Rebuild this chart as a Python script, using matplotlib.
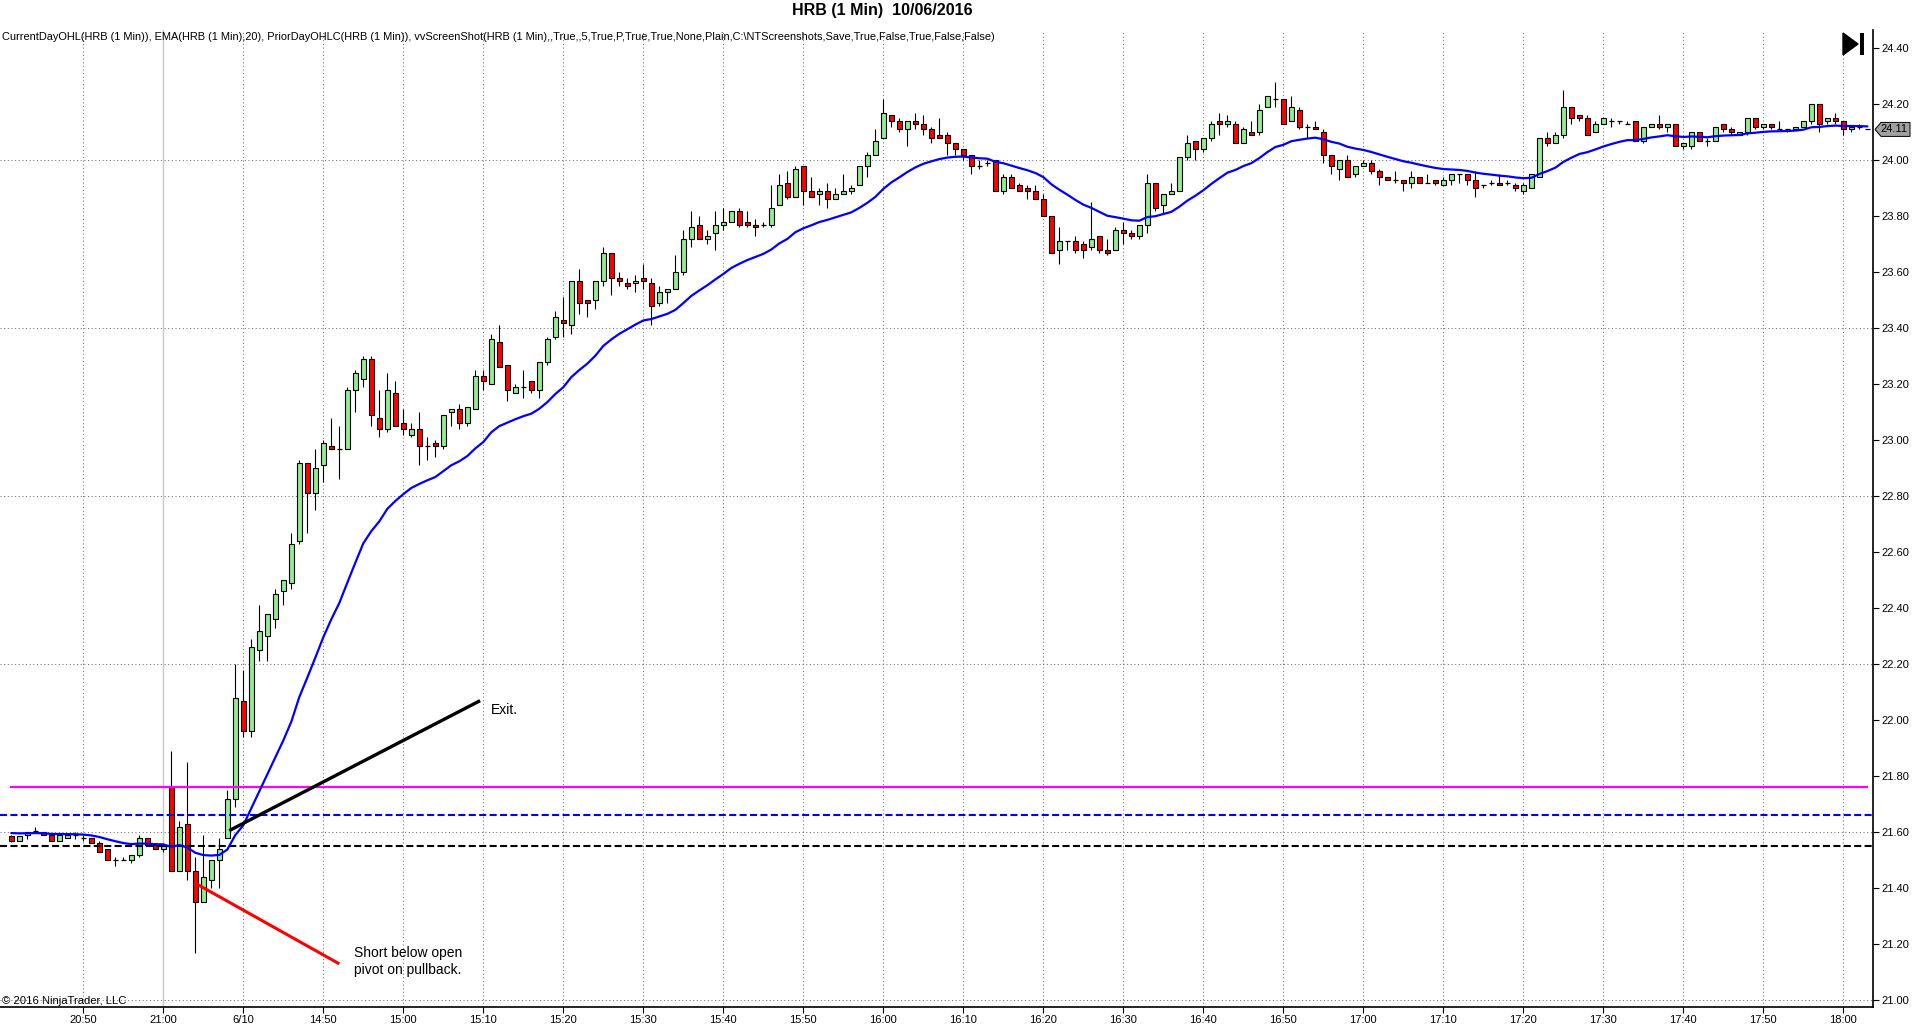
import numpy as np
import pandas as pd
import matplotlib
matplotlib.use("Agg")
import matplotlib.pyplot as plt
from matplotlib.patches import Polygon, Rectangle

plt.rcParams['font.family'] = ['Liberation Sans', 'DejaVu Sans']

# ---------------- data (1-minute OHLC bars, HRB 10/06/2016) ----------------
opens = [
    21.585, 21.57, 21.59, 21.605, 21.60, 21.59, 21.57, 21.58, 21.59, 21.58,
    21.58, 21.56, 21.54, 21.50, 21.50, 21.50, 21.52, 21.58, 21.555, 21.54,
    21.76, 21.46, 21.63, 21.46, 21.35, 21.43, 21.50, 21.58, 21.72, 22.07,
    21.96, 22.25, 22.30, 22.36, 22.46, 22.49, 22.64, 22.92, 22.81, 22.91,
    22.98, 22.97, 22.97, 23.18, 23.22, 23.29, 23.08, 23.04, 23.17, 23.06,
    23.02, 23.04, 22.98, 22.99, 22.98, 23.10, 23.11, 23.06, 23.11, 23.23,
    23.20, 23.35, 23.27, 23.17, 23.19, 23.21, 23.18, 23.28, 23.37, 23.43,
    23.41, 23.57, 23.50, 23.50, 23.57, 23.67, 23.58, 23.56, 23.56, 23.58,
    23.56, 23.49, 23.53, 23.54, 23.60, 23.72, 23.77, 23.72, 23.74, 23.77,
    23.78, 23.82, 23.78, 23.77, 23.77, 23.77, 23.84, 23.92, 23.87, 23.98,
    23.89, 23.88, 23.89, 23.86, 23.88, 23.89, 23.91, 23.98, 24.02, 24.08,
    24.16, 24.14, 24.11, 24.14, 24.13, 24.11, 24.09, 24.09, 24.06, 24.04,
    24.02, 23.98, 23.99, 24.00, 23.89, 23.94, 23.91, 23.90, 23.89, 23.86,
    23.80, 23.68, 23.71, 23.71, 23.70, 23.69, 23.73, 23.68, 23.68, 23.75,
    23.74, 23.73, 23.77, 23.92, 23.84, 23.88, 23.89, 24.01, 24.07, 24.04,
    24.08, 24.14, 24.13, 24.13, 24.06, 24.10, 24.10, 24.19, 24.22, 24.22,
    24.14, 24.18, 24.12, 24.12, 24.10, 24.02, 23.97, 24.00, 23.95, 23.98,
    23.99, 23.96, 23.94, 23.93, 23.93, 23.92, 23.94, 23.92, 23.93, 23.91,
    23.93, 23.95, 23.95, 23.93, 23.91, 23.92, 23.92, 23.92, 23.91, 23.89,
    23.90, 23.94, 24.08, 24.06, 24.09, 24.19, 24.16, 24.15, 24.10, 24.13,
    24.14, 24.14, 24.13, 24.14, 24.07, 24.12, 24.13, 24.12, 24.13, 24.05,
    24.05, 24.10, 24.07, 24.07, 24.13, 24.11, 24.09, 24.10, 24.15, 24.12,
    24.13, 24.11, 24.11, 24.11, 24.12, 24.14, 24.20, 24.14, 24.15, 24.14,
    24.11, 24.12, 24.11,
]
highs = [
    21.59, 21.585, 21.60, 21.62, 21.60, 21.59, 21.59, 21.59, 21.60, 21.59,
    21.58, 21.57, 21.54, 21.51, 21.51, 21.52, 21.59, 21.58, 21.56, 21.56,
    21.89, 21.64, 21.85, 21.51, 21.59, 21.50, 21.58, 21.75, 22.20, 22.18,
    22.29, 22.41, 22.38, 22.47, 22.50, 22.67, 22.93, 22.92, 22.97, 23.00,
    23.08, 23.05, 23.19, 23.25, 23.30, 23.30, 23.18, 23.24, 23.21, 23.11,
    23.06, 23.10, 23.01, 23.00, 23.09, 23.11, 23.13, 23.12, 23.25, 23.25,
    23.38, 23.41, 23.27, 23.20, 23.25, 23.21, 23.28, 23.37, 23.46, 23.51,
    23.57, 23.61, 23.50, 23.57, 23.69, 23.67, 23.60, 23.58, 23.59, 23.63,
    23.58, 23.55, 23.54, 23.66, 23.75, 23.82, 23.80, 23.75, 23.82, 23.83,
    23.82, 23.83, 23.82, 23.79, 23.78, 23.91, 23.95, 23.96, 23.98, 23.98,
    23.94, 23.90, 23.92, 23.90, 23.95, 23.91, 23.98, 24.03, 24.11, 24.22,
    24.16, 24.15, 24.14, 24.17, 24.16, 24.12, 24.15, 24.10, 24.06, 24.04,
    24.02, 24.00, 24.00, 24.00, 23.95, 23.95, 23.92, 23.91, 23.91, 23.88,
    23.80, 23.76, 23.71, 23.73, 23.71, 23.85, 23.73, 23.72, 23.76, 23.78,
    23.75, 23.77, 23.95, 23.92, 23.88, 23.92, 24.01, 24.09, 24.07, 24.08,
    24.14, 24.17, 24.16, 24.14, 24.12, 24.14, 24.20, 24.23, 24.28, 24.22,
    24.23, 24.19, 24.13, 24.14, 24.11, 24.02, 24.00, 24.02, 23.98, 24.00,
    24.00, 23.97, 23.94, 23.96, 23.93, 23.96, 23.94, 23.95, 23.93, 23.94,
    23.95, 23.95, 23.95, 23.96, 23.91, 23.93, 23.95, 23.93, 23.92, 23.92,
    23.95, 24.08, 24.10, 24.10, 24.25, 24.19, 24.16, 24.16, 24.14, 24.15,
    24.15, 24.14, 24.14, 24.14, 24.12, 24.13, 24.16, 24.13, 24.13, 24.06,
    24.10, 24.10, 24.08, 24.12, 24.13, 24.12, 24.10, 24.15, 24.15, 24.13,
    24.13, 24.14, 24.11, 24.12, 24.14, 24.20, 24.20, 24.15, 24.17, 24.14,
    24.12, 24.13, 24.11,
]
lows = [
    21.565, 21.57, 21.575, 21.60, 21.59, 21.57, 21.57, 21.58, 21.575, 21.57,
    21.56, 21.53, 21.50, 21.48, 21.50, 21.49, 21.51, 21.555, 21.54, 21.53,
    21.46, 21.46, 21.43, 21.17, 21.35, 21.40, 21.40, 21.58, 21.69, 21.94,
    21.94, 22.21, 22.21, 22.33, 22.41, 22.47, 22.63, 22.67, 22.75, 22.85,
    22.97, 22.86, 22.97, 23.10, 23.19, 23.05, 23.01, 23.03, 23.05, 23.02,
    23.01, 22.91, 22.93, 22.94, 22.97, 23.05, 23.04, 23.05, 23.11, 23.18,
    23.20, 23.26, 23.14, 23.17, 23.15, 23.17, 23.15, 23.27, 23.36, 23.37,
    23.38, 23.45, 23.44, 23.47, 23.55, 23.52, 23.55, 23.54, 23.53, 23.54,
    23.41, 23.48, 23.49, 23.54, 23.59, 23.69, 23.72, 23.70, 23.68, 23.75,
    23.78, 23.76, 23.76, 23.73, 23.76, 23.76, 23.84, 23.86, 23.87, 23.84,
    23.87, 23.84, 23.83, 23.86, 23.88, 23.88, 23.91, 23.94, 24.02, 24.08,
    24.12, 24.10, 24.05, 24.11, 24.09, 24.06, 24.08, 24.02, 24.02, 24.00,
    23.95, 23.97, 23.98, 23.89, 23.88, 23.90, 23.89, 23.86, 23.86, 23.80,
    23.67, 23.63, 23.68, 23.67, 23.65, 23.68, 23.67, 23.66, 23.68, 23.70,
    23.72, 23.72, 23.74, 23.82, 23.81, 23.88, 23.89, 24.00, 24.00, 24.03,
    24.07, 24.09, 24.12, 24.06, 24.06, 24.09, 24.09, 24.19, 24.19, 24.13,
    24.14, 24.11, 24.08, 24.11, 23.99, 23.95, 23.93, 23.94, 23.94, 23.98,
    23.95, 23.91, 23.93, 23.92, 23.89, 23.90, 23.92, 23.92, 23.91, 23.91,
    23.91, 23.92, 23.91, 23.87, 23.90, 23.91, 23.91, 23.91, 23.89, 23.88,
    23.90, 23.94, 24.05, 24.06, 24.08, 24.13, 24.14, 24.09, 24.10, 24.13,
    24.12, 24.13, 24.13, 24.07, 24.06, 24.12, 24.11, 24.10, 24.05, 24.04,
    24.04, 24.07, 24.05, 24.07, 24.10, 24.09, 24.09, 24.09, 24.11, 24.11,
    24.11, 24.11, 24.10, 24.11, 24.12, 24.13, 24.10, 24.13, 24.13, 24.09,
    24.10, 24.11, 24.11,
]
closes = [
    21.57, 21.585, 21.60, 21.605, 21.59, 21.57, 21.59, 21.59, 21.59, 21.58,
    21.56, 21.53, 21.50, 21.50, 21.50, 21.52, 21.58, 21.555, 21.54, 21.55,
    21.46, 21.62, 21.46, 21.35, 21.44, 21.50, 21.54, 21.72, 22.08, 21.96,
    22.26, 22.32, 22.38, 22.45, 22.50, 22.63, 22.92, 22.81, 22.90, 22.99,
    22.97, 22.97, 23.18, 23.24, 23.29, 23.09, 23.04, 23.18, 23.05, 23.04,
    23.04, 22.98, 22.98, 22.98, 23.09, 23.11, 23.06, 23.12, 23.23, 23.21,
    23.36, 23.26, 23.18, 23.19, 23.19, 23.18, 23.28, 23.36, 23.44, 23.42,
    23.57, 23.49, 23.49, 23.57, 23.67, 23.58, 23.57, 23.55, 23.57, 23.57,
    23.48, 23.53, 23.54, 23.60, 23.72, 23.76, 23.72, 23.73, 23.77, 23.78,
    23.82, 23.77, 23.77, 23.76, 23.77, 23.83, 23.91, 23.87, 23.97, 23.89,
    23.87, 23.89, 23.86, 23.88, 23.89, 23.90, 23.98, 24.02, 24.07, 24.17,
    24.14, 24.11, 24.14, 24.13, 24.11, 24.08, 24.08, 24.06, 24.04, 24.02,
    23.98, 23.98, 23.99, 23.89, 23.94, 23.90, 23.89, 23.89, 23.86, 23.80,
    23.67, 23.71, 23.71, 23.68, 23.68, 23.72, 23.68, 23.67, 23.75, 23.74,
    23.73, 23.77, 23.92, 23.83, 23.88, 23.89, 24.01, 24.06, 24.04, 24.08,
    24.13, 24.13, 24.14, 24.06, 24.11, 24.09, 24.18, 24.23, 24.22, 24.13,
    24.19, 24.12, 24.12, 24.11, 24.02, 23.98, 24.00, 23.94, 23.98, 23.99,
    23.96, 23.94, 23.93, 23.93, 23.92, 23.94, 23.92, 23.92, 23.92, 23.93,
    23.95, 23.95, 23.93, 23.90, 23.91, 23.92, 23.91, 23.92, 23.90, 23.91,
    23.95, 24.08, 24.06, 24.09, 24.19, 24.15, 24.15, 24.09, 24.13, 24.15,
    24.14, 24.14, 24.13, 24.07, 24.12, 24.13, 24.12, 24.13, 24.05, 24.06,
    24.10, 24.07, 24.07, 24.12, 24.11, 24.10, 24.10, 24.15, 24.12, 24.13,
    24.12, 24.11, 24.11, 24.12, 24.14, 24.20, 24.13, 24.15, 24.14, 24.11,
    24.12, 24.12, 24.11,
]

# time labels every 10 bars, first label on the 10th bar
tick_labels = ["20:50", "21:00", "6/10", "14:50", "15:00", "15:10", "15:20",
               "15:30", "15:40", "15:50", "16:00", "16:10", "16:20", "16:30",
               "16:40", "16:50", "17:00", "17:10", "17:20", "17:30", "17:40",
               "17:50", "18:00"]
first_tick_bar = 9
session_break_label = "21:00"

ema_period = 20
ema_seed = 21.60

current_day_open = 21.76      # magenta
prior_day_level_blue = 21.66  # blue dashed
prior_day_level_black = 21.55 # black dashed

price_ticks = [21.00, 21.20, 21.40, 21.60, 21.80, 22.00, 22.20, 22.40, 22.60,
               22.80, 23.00, 23.20, 23.40, 23.60, 23.80, 24.00, 24.20, 24.40]
grid_prices = [21.0, 21.6, 22.2, 22.8, 23.4, 24.0]

# drawn annotation lines (bar index, price)
exit_line_x = [27.25, 58.6]
exit_line_y = [21.606, 22.07]
short_line_x = [23.0, 41.0]
short_line_y = [21.418, 21.13]
exit_text_pos = (59.9, 22.035)
short_text_pos = (42.8, 21.138)

title = "HRB (1 Min)  10/06/2016"
indicator_text = ("CurrentDayOHL(HRB (1 Min)), EMA(HRB (1 Min),20), PriorDayOHLC(HRB (1 Min)), "
                  "vvScreenShot(HRB (1 Min),,True,,5,True,P,True,True,None,Plain,"
                  "C:\\NTScreenshots,Save,True,False,True,False,False)")
copyright_text = "\u00a9 2016 NinjaTrader, LLC"

# ---------------- figure ----------------
W, H = 1920, 1034
fig = plt.figure(figsize=(W / 100, H / 100), dpi=100)
fig.patch.set_facecolor("white")

def fx(px):
    return px / W

def fy(py):
    return 1 - py / H

ax_left, ax_right, ax_top, ax_bot = 0, 1873, 30, 1007
ax = fig.add_axes([fx(ax_left), fy(ax_bot), fx(ax_right - ax_left), (ax_bot - ax_top) / H])
ax.set_facecolor("white")

o = np.array(opens); h = np.array(highs); l = np.array(lows); c = np.array(closes)
n = len(c)
x = np.arange(n)

ax.set_xlim(-1.41, 232.7)
ax.set_ylim(20.976, 24.465)

# grid
tick_pos = [first_tick_bar + 10 * k for k in range(len(tick_labels))]
for tp, lab in zip(tick_pos, tick_labels):
    if lab == session_break_label:
        ax.axvline(tp, color="#c8c8c8", lw=1.0, zorder=0)
    else:
        ax.axvline(tp, color="#707070", lw=0.75, ls=(0, (1, 2.5)), zorder=0)
for gp in grid_prices:
    ax.axhline(gp, color="#707070", lw=0.75, ls=(0, (1, 2.5)), zorder=0)

# level lines
ax.plot([x[0], x[-1]], [current_day_open, current_day_open], color="#ff00ff", lw=1.6, zorder=3.5)
ax.axhline(prior_day_level_blue, color="#0000ff", lw=1.5, ls=(0, (3.4, 1.6)), zorder=3.5)
ax.axhline(prior_day_level_black, color="#000000", lw=1.5, ls=(0, (3.4, 1.6)), zorder=3.5)

# candles
up = c > o + 1e-9
dn = c < o - 1e-9
dj = ~(up | dn)
bw = 0.56
ax.vlines(x, l, h, color="black", lw=0.8, zorder=2)
ax.bar(x[up], (c - o)[up], bottom=o[up], width=bw, color="#90ee90",
       edgecolor="black", linewidth=0.8, zorder=3)
ax.bar(x[dn], (o - c)[dn], bottom=c[dn], width=bw, color="#ff0000",
       edgecolor="black", linewidth=0.8, zorder=3)
ax.hlines(c[dj], x[dj] - bw / 2, x[dj] + bw / 2, color="black", lw=0.9, zorder=3)

# EMA
ema = pd.Series([ema_seed] + list(closes)).ewm(span=ema_period, adjust=False).mean().values[1:]
ax.plot(x, ema, color="#0000ff", lw=1.6, zorder=4, solid_capstyle="round")

# annotations
ax.plot(exit_line_x, exit_line_y, color="black", lw=2.4, zorder=5, solid_capstyle="butt")
ax.plot(short_line_x, short_line_y, color="#ff0000", lw=2.2, zorder=5, solid_capstyle="butt")
ax.text(exit_text_pos[0], exit_text_pos[1], "Exit.", fontsize=10, ha="left", va="center", zorder=6)
ax.text(short_text_pos[0], short_text_pos[1], "Short below open\npivot on pullback.",
        fontsize=10, ha="left", va="center", linespacing=1.25, zorder=6)

# axes styling
for s in ["left", "top"]:
    ax.spines[s].set_visible(False)
ax.spines["right"].set_linewidth(1.2)
ax.spines["bottom"].set_linewidth(1.2)
ax.yaxis.tick_right()
ax.set_yticks(price_ticks)
ax.set_yticklabels([f"{p:.2f}" for p in price_ticks])
ax.set_xticks(tick_pos)
ax.set_xticklabels(tick_labels)
ax.tick_params(axis="y", direction="out", length=4.5, width=0.8, pad=1.5, labelsize=8, colors="black")
ax.tick_params(axis="x", direction="out", length=4, width=0.8, pad=1.5, labelsize=8, colors="black")

# last price marker
fig.canvas.draw()
last = c[-1]
_, yd = ax.transData.transform((0, last))
xa = ax.transAxes.transform((1, 0))[0]
pts = [(xa + 2, yd), (xa + 8, yd + 7), (xa + 37, yd + 7), (xa + 37, yd - 7), (xa + 8, yd - 7)]
fig.patches.append(Polygon(pts, closed=True, facecolor="#a0a0a0", edgecolor="black",
                           lw=0.7, transform=None, figure=fig))
fig.text((xa + 21) / W, yd / H, f"{last:.2f}", fontsize=8, ha="center", va="center")

# "go to end" icon
tri = [(fx(1843), fy(33)), (fx(1843), fy(55)), (fx(1858), fy(44))]
fig.patches.append(Polygon(tri, closed=True, facecolor="black", edgecolor="black",
                           transform=fig.transFigure, figure=fig))
fig.patches.append(Rectangle((fx(1860), fy(55)), fx(3.5), 22 / H, facecolor="black",
                             edgecolor="none", transform=fig.transFigure, figure=fig))

# texts
fig.text(fx(882), fy(10), title, fontsize=11.5, fontweight="bold", ha="center", va="center")
fig.text(fx(2), fy(37), indicator_text, fontsize=7.95, ha="left", va="center")
fig.text(fx(2), fy(1001), copyright_text, fontsize=8.1, ha="left", va="center")

fig.savefig("out.png", dpi=100)
